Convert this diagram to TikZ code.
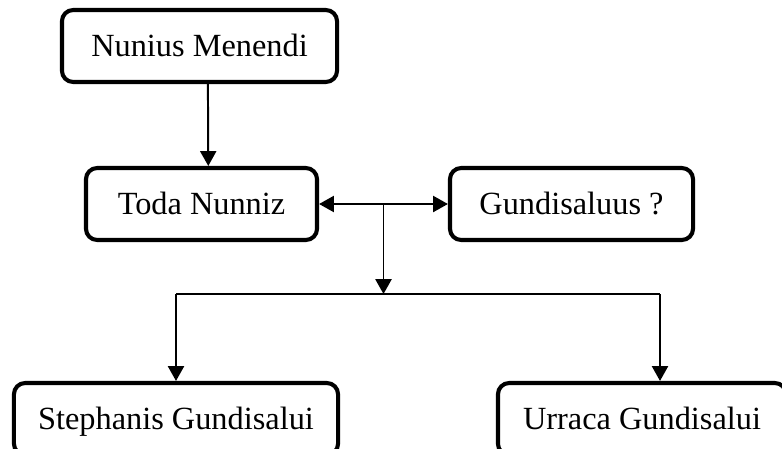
\documentclass[tikz,border=0pt]{standalone}
\usepackage{fontspec}
\setmainfont{Liberation Serif}
\usepackage{tikz}
\usetikzlibrary{arrows.meta, positioning, calc}
\tikzset{
  >=Triangle,
  person/.style  = {draw, line width=2.9pt, rounded corners=8pt,
                    minimum height=1.8cm, inner sep=2pt,
                    text height=16pt, text depth=0.5pt,
                    font=\fontsize{23}{27}\selectfont, fill=white},
  arrow/.style   = {-{Triangle[length=3.7mm, width=4mm]}, line width=1.4pt},
  darrow/.style  = {{Triangle[length=3.7mm, width=4mm]}-{Triangle[length=3.7mm, width=4mm]},
                    line width=1.4pt},
  link/.style    = {line width=1pt},
}

\begin{document}
\begin{tikzpicture}[x=0.025cm, y=-0.025cm]
  \useasboundingbox (0,0) rectangle (782,448);

  % ---------- parents ------------------------------------------------
  \node[person, minimum width=6.875cm] (num)  at (199.5,46)  {Nunius Menendi};
  \node[person, minimum width=5.775cm] (toda) at (201.5,204) {Toda Nunniz};
  \node[person, minimum width=6.075cm] (gund) at (571.5,204) {Gundisaluus ?};

  % ---------- children -----------------------------------------------
  \node[person, minimum width=8.1cm] (steph) at (176,419) {Stephanis Gundisalui};
  \node[person, minimum width=7.2cm] (urr)   at (642,419) {Urraca Gundisalui};

  % ---------- connectors ---------------------------------------------
  \draw[arrow] ([xshift=0.21cm]num.south) -- ([xshift=0.17cm]toda.north);
  \draw[darrow] (toda.east) -- (gund.west);
  \coordinate (mid) at ($(toda.east)!0.5!(gund.west)$);
  \coordinate (jn)  at ([yshift=-2.25cm]mid);
  \coordinate (jl)  at (steph.north |- jn);
  \coordinate (jr)  at ([xshift=0.45cm]urr.north |- jn);
  \draw[arrow] (mid) -- (jn);
  \draw[link] (jl) -- (jr);
  \draw[arrow] (jl) -- (steph.north);
  \draw[arrow] (jr) -- ([xshift=0.45cm]urr.north);
\end{tikzpicture}
\end{document}
